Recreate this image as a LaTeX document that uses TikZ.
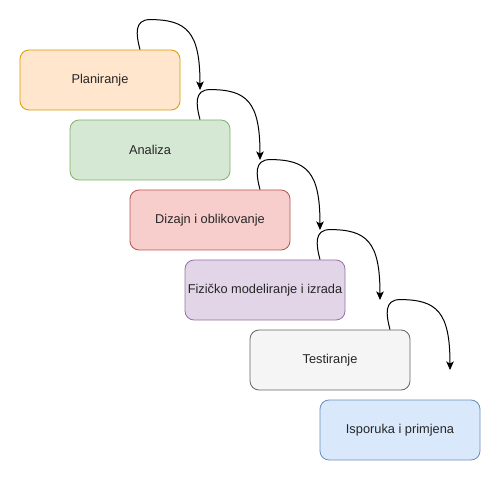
\documentclass[tikz,border=0pt]{standalone}
\usepackage{fontspec}
\setmainfont{Liberation Sans}
\usetikzlibrary{arrows.meta}

\definecolor{orFill}{HTML}{FFE6CC}\definecolor{orLine}{HTML}{D79B00}
\definecolor{grFill}{HTML}{D5E8D4}\definecolor{grLine}{HTML}{82B366}
\definecolor{rdFill}{HTML}{F8CECC}\definecolor{rdLine}{HTML}{B85450}
\definecolor{puFill}{HTML}{E1D5E7}\definecolor{puLine}{HTML}{9673A6}
\definecolor{gyFill}{HTML}{F5F5F5}\definecolor{gyLine}{HTML}{666666}
\definecolor{blFill}{HTML}{DAE8FC}\definecolor{blLine}{HTML}{6C8EBF}

\tikzstyle{phase}=[shape=rectangle,rounded corners=9pt,minimum width=160pt,minimum height=60pt,inner sep=0pt,line width=0.8pt,text=black!85,font=\fontsize{12.8pt}{15pt}\selectfont]
\tikzstyle{flow}=[line width=1pt,-{Stealth[length=8.5pt,width=7.5pt,inset=2pt]}]

\begin{document}
\begin{tikzpicture}[x=1pt,y=-1pt]
        \useasboundingbox (0,0) rectangle (501,481);

        % phases
        \node[phase,draw=orLine,fill=orFill] (f1) at (100,80)  {Planiranje};
        \node[phase,draw=grLine,fill=grFill] (f2) at (150,150) {Analiza};
        \node[phase,draw=rdLine,fill=rdFill] (f3) at (210,220) {Dizajn i oblikovanje};
        \node[phase,draw=puLine,fill=puFill] (f4) at (265,290) {Fizičko modeliranje i izrada};
        \node[phase,draw=gyLine,fill=gyFill] (f5) at (330,360) {Testiranje};
        \node[phase,draw=blLine,fill=blFill] (f6) at (400,430) {Isporuka i primjena};

        % loose arrow ends
        \coordinate (e1) at (200,90);
        \coordinate (e2) at (260,160);
        \coordinate (e3) at (320,230);
        \coordinate (e4) at (380,300);
        \coordinate (e5) at (450,370);

        \draw[flow] ([xshift=40pt]f1.north) .. controls +(-4,-15) and +(-16,0) .. ++(10,-30) .. controls +(37,0) and +(0,-58) .. (e1);
        \draw[flow] ([xshift=50pt]f2.north) .. controls +(-4,-15) and +(-16,0) .. ++(10,-30) .. controls +(37,0) and +(0,-58) .. (e2);
        \draw[flow] ([xshift=50pt]f3.north) .. controls +(-4,-15) and +(-16,0) .. ++(10,-30) .. controls +(37,0) and +(0,-58) .. (e3);
        \draw[flow] ([xshift=55pt]f4.north) .. controls +(-4,-15) and +(-16,0) .. ++(10,-30) .. controls +(37,0) and +(0,-58) .. (e4);
        \draw[flow] ([xshift=60pt]f5.north) .. controls +(-4,-15) and +(-16,0) .. ++(10,-30) .. controls +(37,0) and +(0,-58) .. (e5);
\end{tikzpicture}
\end{document}
